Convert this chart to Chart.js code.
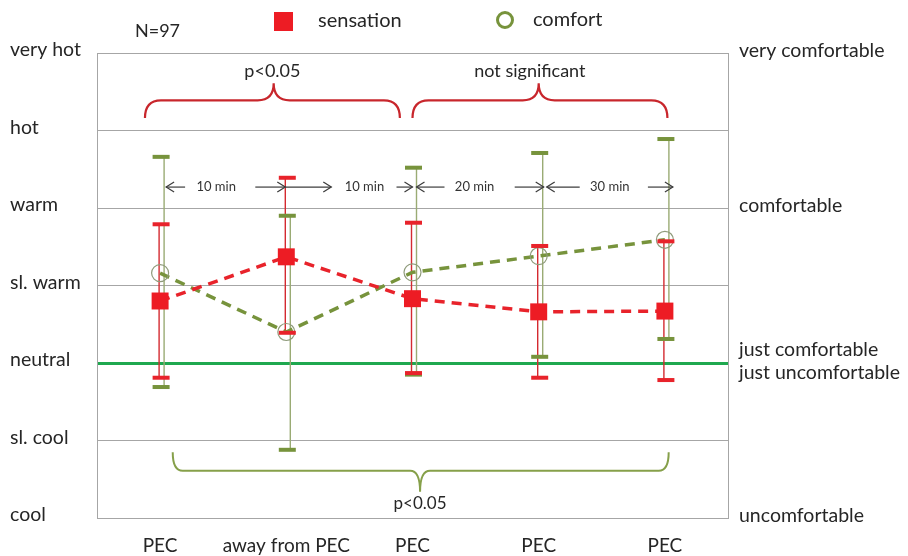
<!DOCTYPE html>
<html>
<head>
<meta charset="utf-8">
<script src="https://cdn.jsdelivr.net/npm/chart.js@4/dist/chart.umd.min.js"></script>
<style>
html,body{margin:0;padding:0;background:#fff;}
#wrap{width:908px;height:556px;position:relative;}
</style>
</head>
<body>
<div id="wrap"><canvas id="c"></canvas></div>
<script>
// ---- data ----
const categories = ['PEC', 'away from PEC', 'PEC', 'PEC', 'PEC'];
const sensationMean = [0.80, 1.37, 0.83, 0.66, 0.67];
const sensationHigh = [1.79, 2.39, 1.81, 1.51, 1.57];
const sensationLow  = [-0.19, 0.39, -0.13, -0.19, -0.22];
const comfortMean = [1.16, 0.40, 1.17, 1.38, 1.59];
const comfortHigh = [2.66, 1.90, 2.52, 2.71, 2.89];
const comfortLow  = [-0.31, -1.12, -0.15, 0.08, 0.31];
// left axis tick labels for values -2..4
const sensationTickValues = [-2, -1, 0, 1, 2, 3, 4];
const sensationTickLabels = ['cool', 'sl. cool', 'neutral', 'sl. warm', 'warm', 'hot', 'very hot'];
// right axis tick labels
const comfortTickValues = [-2, 0, 2, 4];
const comfortTickLabels = [['uncomfortable'], ['just comfortable', 'just uncomfortable'], ['comfortable'], ['very comfortable']];
const intervalLabels = ['10 min', '10 min', '20 min', '30 min'];
const sampleText = 'N=97';
const seriesNames = ['sensation', 'comfort'];

const RED = '#e8232b';
const OLIVE = '#77933c';
const FONT = 'Lato, "Open Sans", sans-serif';
const TXT = '#262626';

// ---- annotation plugin ----
function arrowHead(ctx, x, y, dir) {
  ctx.beginPath();
  ctx.moveTo(x - dir * 8, y - 5);
  ctx.lineTo(x, y);
  ctx.lineTo(x - dir * 8, y + 5);
  ctx.stroke();
}
function drawArrow(ctx, xTail, xHead, y) {
  const dir = xHead > xTail ? 1 : -1;
  ctx.beginPath();
  ctx.moveTo(xTail, y);
  ctx.lineTo(xHead, y);
  ctx.stroke();
  arrowHead(ctx, xHead, y, dir);
}
function brace(ctx, x0, x1, xm, yEnd, yBar, yTip, r) {
  ctx.beginPath();
  ctx.moveTo(x0, yEnd);
  ctx.quadraticCurveTo(x0, yBar, x0 + r, yBar);
  ctx.lineTo(xm - r, yBar);
  ctx.quadraticCurveTo(xm, yBar, xm, yTip);
  ctx.quadraticCurveTo(xm, yBar, xm + r, yBar);
  ctx.lineTo(x1 - r, yBar);
  ctx.quadraticCurveTo(x1, yBar, x1, yEnd);
  ctx.stroke();
}

const errorBars = {
  id: 'errorBars',
  beforeDatasetsDraw(chart) {
    const ctx = chart.ctx, xs = chart.scales.x, ys = chart.scales.y;
    ctx.save();
    categories.forEach((c, i) => {
      const cx = xs.getPixelForValue(i);
      ctx.strokeStyle = '#9aab74';
      ctx.lineWidth = 1.4;
      ctx.beginPath();
      ctx.moveTo(cx + 4, ys.getPixelForValue(comfortHigh[i]));
      ctx.lineTo(cx + 4, ys.getPixelForValue(comfortLow[i]));
      ctx.stroke();
      ctx.strokeStyle = '#d42a30';
      ctx.beginPath();
      ctx.moveTo(cx - 1, ys.getPixelForValue(sensationHigh[i]));
      ctx.lineTo(cx - 1, ys.getPixelForValue(sensationLow[i]));
      ctx.stroke();
    });
    ctx.restore();
  },
  afterDatasetsDraw(chart) {
    const ctx = chart.ctx, xs = chart.scales.x, ys = chart.scales.y;
    ctx.save();
    categories.forEach((c, i) => {
      const cx = xs.getPixelForValue(i) + 1;
      ctx.fillStyle = OLIVE;
      [comfortHigh[i], comfortLow[i]].forEach(v => {
        const y = ys.getPixelForValue(v);
        ctx.fillRect(cx - 8.5, y - 2, 17, 4);
      });
      ctx.fillStyle = RED;
      [sensationHigh[i], sensationLow[i]].forEach(v => {
        const y = ys.getPixelForValue(v);
        ctx.fillRect(cx - 8.5, y - 2, 17, 4);
      });
    });
    ctx.restore();
  }
};

const annotations = {
  id: 'annotations',
  afterDraw(chart) {
    const ctx = chart.ctx, xs = chart.scales.x, ys = chart.scales.y;
    const X = v => xs.getPixelForValue(v), Y = v => ys.getPixelForValue(v);
    ctx.save();
    ctx.lineWidth = 2.2;
    ctx.strokeStyle = '#c8262c';
    brace(ctx, X(-0.12), X(1.9), X(0.9), Y(3.16), Y(3.39), Y(3.61), 16);
    brace(ctx, X(2.0), X(4.02), X(3.0), Y(3.16), Y(3.39), Y(3.61), 16);
    ctx.strokeStyle = '#86a04a';
    ctx.lineWidth = 2;
    brace(ctx, X(0.1), X(4.03), X(2.06), Y(-1.15), Y(-1.39), Y(-1.66), 10);

    ctx.fillStyle = TXT;
    ctx.textAlign = 'center';
    ctx.textBaseline = 'middle';
    ctx.font = '18px ' + FONT;
    ctx.fillText('p<0.05', X(0.89), Y(3.77));
    ctx.fillText('not significant', X(2.93), Y(3.76));
    ctx.font = '17px ' + FONT;
    ctx.fillText('p<0.05', X(2.06), Y(-1.81));

    const ya = Y(2.27);
    ctx.strokeStyle = '#3c3c3c';
    ctx.lineWidth = 1.2;
    const c = categories.map((_, i) => X(i));
    drawArrow(ctx, c[0] + 25, c[0] + 6, ya);
    drawArrow(ctx, c[1] - 31, c[1] - 1, ya);
    drawArrow(ctx, c[1] - 1, c[1] + 45, ya);
    drawArrow(ctx, c[2] - 16, c[2], ya);
    drawArrow(ctx, c[2] + 32, c[2] + 4, ya);
    drawArrow(ctx, c[3] - 24, c[3] + 5, ya);
    drawArrow(ctx, c[3] + 41, c[3] + 8, ya);
    drawArrow(ctx, c[4] - 17, c[4] + 8, ya);
    const textShift = [-7, 15, -1, 8];
    ctx.font = '13px ' + FONT;
    ctx.fillStyle = '#333';
    intervalLabels.forEach((t, i) => {
      ctx.fillText(t, (c[i] + c[i + 1]) / 2 + textShift[i], ya);
    });

    ctx.font = '18px ' + FONT;
    ctx.fillStyle = TXT;
    ctx.textAlign = 'left';
    ctx.fillText(sampleText, 135, 31);
    ctx.font = '20px ' + FONT;
    ctx.fillStyle = '#ed1c24';
    ctx.fillRect(274, 12, 19, 19);
    ctx.fillStyle = TXT;
    ctx.fillText(seriesNames[0], 318, 21);
    ctx.strokeStyle = OLIVE;
    ctx.lineWidth = 3;
    ctx.beginPath();
    ctx.arc(505, 20, 7.5, 0, Math.PI * 2);
    ctx.stroke();
    ctx.fillText(seriesNames[1], 533, 20);
    ctx.restore();
  }
};

new Chart(document.getElementById('c'), {
  type: 'line',
  data: {
    labels: categories,
    datasets: [
      {
        label: seriesNames[0],
        data: sensationMean,
        borderColor: RED,
        borderWidth: 3.5,
        borderDash: [10, 7],
        pointStyle: 'rect',
        pointRadius: 12,
        pointBackgroundColor: '#ed1c24',
        pointBorderColor: '#ed1c24',
        pointBorderWidth: 0,
        tension: 0,
        yAxisID: 'y'
      },
      {
        label: seriesNames[1],
        data: comfortMean,
        borderColor: OLIVE,
        borderWidth: 3.5,
        borderDash: [10, 7],
        pointStyle: 'circle',
        pointRadius: 8.5,
        pointBackgroundColor: 'rgba(0,0,0,0)',
        pointBorderColor: '#8f9b7b',
        pointBorderWidth: 1.2,
        tension: 0,
        yAxisID: 'y'
      }
    ]
  },
  options: {
    responsive: true,
    maintainAspectRatio: false,
    animation: false,
    events: [],
    layout: { padding: { left: 10, top: 53, right: 0, bottom: 0 } },
    plugins: { legend: { display: false }, tooltip: { enabled: false } },
    scales: {
      x: {
        type: 'category',
        offset: true,
        grid: { display: false, drawTicks: false },
        border: { display: true, color: '#a6a6a6', width: 1 },
        ticks: { color: TXT, font: { size: 19, family: FONT }, padding: 16, maxRotation: 0, autoSkip: false },
        afterFit(s) { s.height = 38; }
      },
      y: {
        position: 'left',
        min: -2, max: 4,
        afterBuildTicks(s) { s.ticks = sensationTickValues.map(v => ({ value: v })); },
        grid: {
          drawTicks: false,
          color: ctx => ctx.tick && ctx.tick.value === 0 ? '#1fa84f' : '#a6a6a6',
          lineWidth: ctx => ctx.tick && ctx.tick.value === 0 ? 3 : 1
        },
        border: { display: true, color: '#a6a6a6', width: 1 },
        ticks: {
          crossAlign: 'far',
          labelOffset: -3,
          color: TXT,
          font: { size: 19.5, family: FONT },
          callback: v => sensationTickLabels[sensationTickValues.indexOf(v)]
        },
        afterFit(s) { s.width = 87; }
      },
      y2: {
        position: 'right',
        min: -2, max: 4,
        afterBuildTicks(s) { s.ticks = comfortTickValues.map(v => ({ value: v })); },
        grid: { display: false, drawTicks: false },
        border: { display: true, color: '#a6a6a6', width: 1 },
        ticks: {
          crossAlign: 'near',
          padding: 11,
          labelOffset: -2,
          color: TXT,
          font: { size: 19.5, family: FONT, lineHeight: 1.2 },
          callback: v => comfortTickLabels[comfortTickValues.indexOf(v)]
        },
        afterFit(s) { s.width = 180; }
      }
    }
  },
  plugins: [errorBars, annotations]
});
</script>
</body>
</html>
